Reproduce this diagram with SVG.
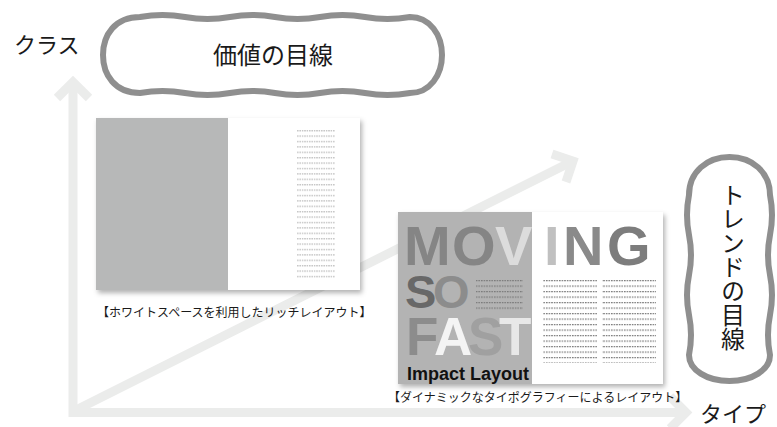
<svg xmlns="http://www.w3.org/2000/svg" width="777" height="427" viewBox="0 0 777 427">
<defs>
<style>
.axis{fill:none;stroke:#ebeceb;stroke-width:9;stroke-linejoin:miter;stroke-linecap:butt}
.cloud{fill:#fff;stroke:#8f8f8f;stroke-width:6}
.jp{font-family:"Noto Sans CJK JP","Noto Sans CJK SC",sans-serif;fill:#1a1a1a}
.big{font-family:"Liberation Sans",Arial,sans-serif;font-weight:bold}
.vert{writing-mode:vertical-rl;text-orientation:upright}
</style>
<filter id="sh" x="-5%" y="-5%" width="115%" height="120%"><feDropShadow dx="2" dy="3" stdDeviation="2.5" flood-color="#000" flood-opacity="0.3"/></filter>
<pattern id="txtL" patternUnits="userSpaceOnUse" x="297" y="130" width="2.4" height="5.4"><rect width="1.6" height="1.4" fill="#c6c6c6"/></pattern>
<pattern id="txtR" patternUnits="userSpaceOnUse" x="0" y="280" width="2.6" height="5.5"><rect width="1.6" height="1.2" fill="#7a7a7a"/></pattern>
</defs>
<rect width="777" height="427" fill="#fff"/>
<g id="connectors">
<path class="axis" d="M73,84 V412.5 H684"/>
<polyline class="axis" points="57,98 73,82 89,98"/>
<polyline class="axis" points="670,396.5 686,412.5 670,428.5"/>
<path class="axis" d="M76,410 L570,162.5"/>
<polyline class="axis" points="552,154 573,161 566,182"/>
</g>
<g id="pic-whitespace">
<rect x="96" y="118" width="264" height="172" fill="#fff" filter="url(#sh)"/>
<rect x="96" y="118" width="132" height="172" fill="#b7b8b8"/>
<rect x="297" y="130" width="38" height="150" fill="url(#txtL)"/>
<text class="jp" x="97" y="317" font-size="12">【ホワイトスペースを利用したリッチレイアウト】</text>
</g>
<g id="pic-impact">
<rect x="398" y="212" width="265" height="172" fill="#fff" filter="url(#sh)"/>
<rect x="398" y="212" width="134" height="172" fill="#b3b3b3"/>
<text class="big" y="265" font-size="56"><tspan x="404" fill="#858585">M</tspan><tspan x="452" fill="#858585">O</tspan><tspan x="495" fill="#dcdcdc">V</tspan><tspan x="544" fill="#c0c0c0">I</tspan><tspan x="563" fill="#8a8a8a">N</tspan><tspan x="607" fill="#7d7d7d">G</tspan></text>
<text class="big" y="308" font-size="47"><tspan x="405" fill="#686868">S</tspan><tspan x="433" fill="#8c8c8c">O</tspan></text>
<text class="big" y="355" font-size="53"><tspan x="406" fill="#8c8c8c">F</tspan><tspan x="434" fill="#f4f4f4">A</tspan><tspan x="468" fill="#a0a0a0">S</tspan><tspan x="499" fill="#e8e8e8">T</tspan></text>
<text class="big" x="407" y="380" font-size="18" fill="#111">Impact Layout</text>
<rect x="476" y="280" width="47" height="32" fill="url(#txtR)"/>
<rect x="543" y="280" width="54" height="83" fill="url(#txtR)"/>
<rect x="602" y="280" width="54" height="83" fill="url(#txtR)"/>
<text class="jp" x="388" y="402" font-size="12">【ダイナミックなタイポグラフィーによるレイアウト】</text>
</g>
<g id="value-cloud">
<path class="cloud" d="M140,17 Q162.5,13 185,17 T230,17 T275,17 T320,17 T365,17 T410,17 C430,17 442,35 442,55 C442,75 430,93 410,93 Q387.5,97 365,93 T320,93 T275,93 T230,93 T185,93 T140,93 C115,93 103,75 103,55 C103,35 115,17 140,17 Z"/>
<text class="jp" x="273" y="64" font-size="24" text-anchor="middle">価値の目線</text>
</g>
<g id="trend-cloud">
<path class="cloud" d="M689,195 C689,172 707,157 729.5,157 C752,157 770,172 770,195 Q774,215 770,235 T770,275 T770,315 T770,355 C770,370 752,381 729.5,381 C707,381 689,370 689,355 Q693,335 689,315 T689,275 T689,235 T689,195 Z"/>
<text class="jp vert" x="733" y="183" font-size="24">トレンドの目線</text>
</g>
<g id="class-label"><text class="jp" x="14" y="53" font-size="22">クラス</text></g>
<g id="type-label"><text class="jp" x="700" y="422" font-size="22">タイプ</text></g>
</svg>
